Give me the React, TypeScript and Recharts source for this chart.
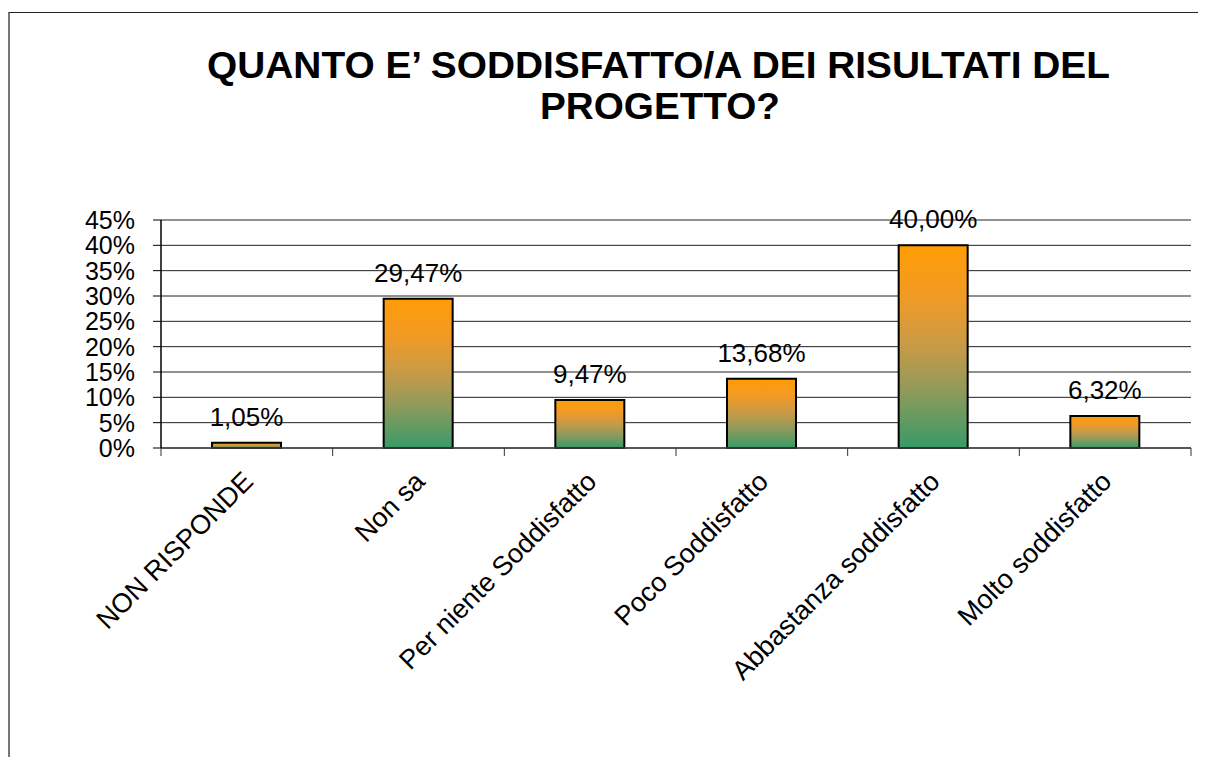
import React from 'react';
import { BarChart, Bar, XAxis, YAxis, CartesianGrid, LabelList } from 'recharts';

const categories = [
  'NON RISPONDE',
  'Non sa',
  'Per niente Soddisfatto',
  'Poco Soddisfatto',
  'Abbastanza soddisfatto',
  'Molto soddisfatto',
];
const shares = [1.05, 29.47, 9.47, 13.68, 40.0, 6.32];
const yTicks = [0, 5, 10, 15, 20, 25, 30, 35, 40, 45];
const titleLines = ['QUANTO E\u2019 SODDISFATTO/A DEI RISULTATI DEL', 'PROGETTO?'];

const data = categories.map((c, i) => ({ name: c, value: shares[i] }));

const W = 1206;
const H = 757;
const M = { top: 220, right: 15, left: 101, bottom: 109 };
const Y_W = 60;
const X_H = 200;
const PLOT_W = W - M.left - M.right - Y_W;
const HALF_BAND = PLOT_W / categories.length / 2;
const FONT = '"Liberation Sans", Arial, sans-serif';

const fmt = (v: number) => v.toFixed(2).replace('.', ',') + '%';

const XTick = (props: any) => {
  const { x, y, payload, index } = props;
  const tx = x + 8;
  const ty = y + 35;
  return (
    <g>
      {index === 0 && (
        <line x1={x - HALF_BAND} x2={x - HALF_BAND} y1={y} y2={y + 8} stroke="#333" strokeWidth={1} />
      )}
      <line x1={x + HALF_BAND} x2={x + HALF_BAND} y1={y} y2={y + 8} stroke="#333" strokeWidth={1} />
      <text
        x={tx}
        y={ty}
        transform={`rotate(-45, ${tx}, ${ty})`}
        textAnchor="end"
        fontSize={27}
        fontFamily={FONT}
        fill="#000"
      >
        {payload.value}
      </text>
    </g>
  );
};

export default function App() {
  return (
    <div
      style={{
        position: 'relative',
        marginLeft: -8,
        marginTop: -8,
        width: W,
        height: H,
        overflow: 'hidden',
        background: '#fff',
        fontFamily: FONT,
      }}
    >
      <div
        style={{
          position: 'absolute',
          left: 8,
          top: 12,
          width: W - 8,
          height: H - 12,
          borderTop: '1px solid #222',
          borderLeft: '2px solid #777',
          boxSizing: 'border-box',
        }}
      />
      <svg width={W} height={140} style={{ position: 'absolute', left: 0, top: 0 }}>
        <text
          x={207}
          y={78}
          textLength={903}
          lengthAdjust="spacingAndGlyphs"
          fontSize={37}
          fontWeight="bold"
          fontFamily={FONT}
          fill="#000"
        >
          {titleLines[0]}
        </text>
        <text
          x={540}
          y={119}
          textLength={240}
          lengthAdjust="spacingAndGlyphs"
          fontSize={37}
          fontWeight="bold"
          fontFamily={FONT}
          fill="#000"
        >
          {titleLines[1]}
        </text>
      </svg>
      <div style={{ position: 'absolute', left: 0, top: 0 }}>
        <BarChart width={W} height={H} data={data} margin={M}>
          <defs>
            <linearGradient id="barGrad" x1="0" y1="0" x2="0" y2="1">
              <stop offset="0%" stopColor="#FF9C05" />
              <stop offset="25%" stopColor="#F29A25" />
              <stop offset="50%" stopColor="#C79A48" />
              <stop offset="72%" stopColor="#8F9A5C" />
              <stop offset="100%" stopColor="#389A68" />
            </linearGradient>
          </defs>
          <CartesianGrid vertical={false} stroke="#222" strokeWidth={1} />
          <XAxis
            dataKey="name"
            interval={0}
            height={X_H}
            tickSize={0}
            tickMargin={0}
            tickLine={false}
            axisLine={{ stroke: '#444', strokeWidth: 1.5 }}
            tick={<XTick />}
          />
          <YAxis
            domain={[0, 45]}
            ticks={yTicks}
            interval={0}
            width={Y_W}
            tickFormatter={(v: number) => v + '%'}
            tickSize={8}
            tickMargin={18}
            tickLine={{ stroke: '#000' }}
            axisLine={{ stroke: '#000', strokeWidth: 1.5 }}
            tick={{ fill: '#000', fontSize: 25, fontFamily: FONT }}
          />
          <YAxis
            yAxisId="right"
            orientation="right"
            width={0}
            tick={false}
            tickLine={false}
            axisLine={{ stroke: '#888', strokeWidth: 1.5 }}
          />
          <Bar
            dataKey="value"
            fill="url(#barGrad)"
            stroke="#000"
            strokeWidth={2}
            barSize={69}
            isAnimationActive={false}
          >
            <LabelList
              dataKey="value"
              position="top"
              offset={17}
              formatter={(v: any) => fmt(Number(v))}
              style={{ fill: '#000', fontSize: 26, fontFamily: FONT }}
            />
          </Bar>
        </BarChart>
      </div>
    </div>
  );
}
